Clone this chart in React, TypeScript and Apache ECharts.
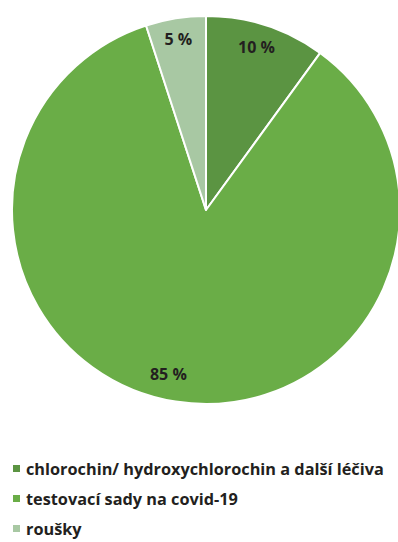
import React, { useEffect, useRef } from "react";
import * as echarts from "echarts";

const categories = [
  "chlorochin/ hydroxychlorochin a další léčiva",
  "testovací sady na covid-19",
  "roušky",
];
const values = [10, 85, 5];
const labels = ["10 %", "85 %", "5 %"];
const colors = ["#5b9442", "#6aad47", "#a8c8a3"];
const labelOffsets = [[-2, -1], [-11, -4], [-1, -3]];

export default function App() {
  const ref = useRef<HTMLDivElement>(null);
  useEffect(() => {
    document.body.style.margin = "0";
    const chart = echarts.init(ref.current!, null, { renderer: "svg" });
    const data = categories.map((name, i) => ({
      name,
      value: values[i],
      itemStyle: { color: colors[i] },
    }));
    chart.setOption({
      animation: false,
      backgroundColor: "#ffffff",
      legend: {
        orient: "vertical",
        left: 11,
        top: 460,
        padding: 0,
        itemWidth: 9,
        itemHeight: 9,
        itemGap: 13,
        icon: "rect",
        data: categories,
        textStyle: {
          fontFamily: "Open Sans",
          fontWeight: "bold",
          fontSize: 16.3,
          lineHeight: 17,
          color: "#231f20",
          padding: [0, 0, 0, 0],
        },
      },
      series: [
        {
          type: "pie",
          center: [206, 210],
          radius: [0, 194],
          startAngle: 90,
          clockwise: true,
          label: { show: false },
          labelLine: { show: false },
          itemStyle: { borderColor: "#ffffff", borderWidth: 2 },
          data,
        },
        {
          type: "pie",
          center: [206, 210],
          radius: [140, 194],
          startAngle: 90,
          clockwise: true,
          silent: true,
          legendHoverLink: false,
          label: {
            show: true,
            position: "inside",
            formatter: (p: any) => labels[p.dataIndex],
            fontFamily: "Open Sans",
            fontWeight: "bold",
            fontSize: 16,
            color: "#231f20",
          },
          labelLine: { show: false },
          itemStyle: { color: "rgba(0,0,0,0)" },
          data: categories.map((name, i) => ({
            name: name + " ",
            value: values[i],
            label: { offset: labelOffsets[i] },
          })),
        },
      ],
    });
    return () => chart.dispose();
  }, []);
  return (
    <div
      ref={ref}
      style={{ position: "absolute", left: 0, top: 0, width: 398, height: 542 }}
    />
  );
}
